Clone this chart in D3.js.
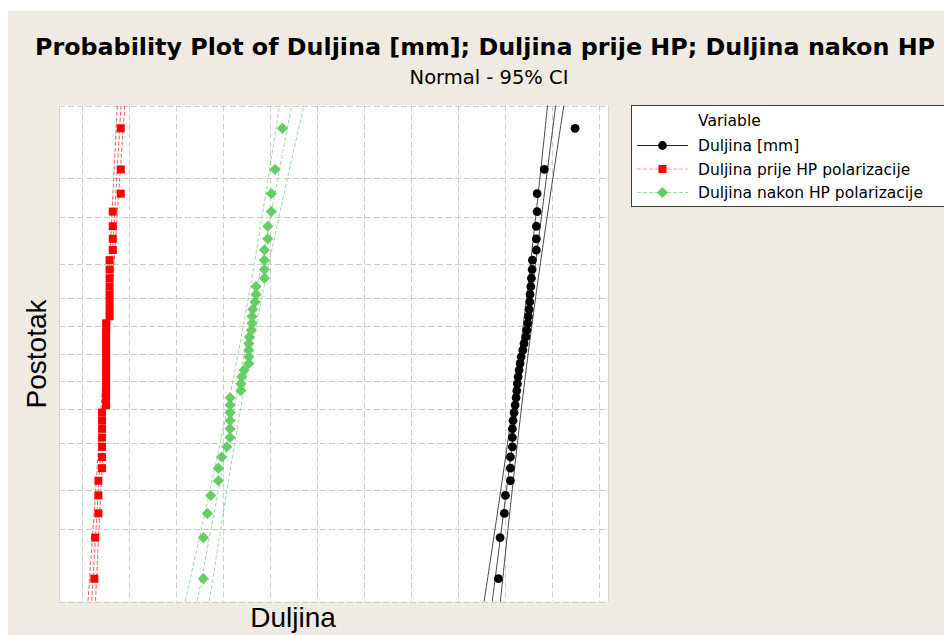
<!DOCTYPE html>
<html>
<head>
<meta charset="utf-8">
<script src="https://cdn.jsdelivr.net/npm/d3@7"></script>
<style>
  html, body { margin: 0; padding: 0; background: #ffffff; }
  svg { display: block; }
</style>
</head>
<body>
<svg id="chart" width="944" height="635"></svg>
<script>
// Series (sorted sample values)
const seriesNames = ["Duljina [mm]", "Duljina prije HP polarizacije", "Duljina nakon HP polarizacije"];

const duljina = [54.34, 54.52, 54.98, 55.09, 55.62, 55.62, 55.62, 55.83, 55.83, 55.83,
                 55.90, 56.01, 56.12, 56.22, 56.30, 56.36, 56.44, 56.54, 56.65, 56.76,
                 56.94, 57.07, 57.26, 57.36, 57.47, 57.53, 57.61, 57.68, 57.71, 57.79,
                 57.85, 57.93, 57.96, 58.38, 58.38, 58.38, 58.46, 58.46, 59.23, 62.50];

const prijeHP = [11.36, 11.44, 11.79, 11.79, 11.79, 12.18, 12.18, 12.18, 12.18, 12.18,
                 12.18, 12.18, 12.61, 12.61, 12.61, 12.61, 12.61, 12.61, 12.61, 12.61,
                 12.61, 12.61, 12.61, 12.61, 12.61, 12.98, 12.98, 12.98, 12.98, 12.98,
                 12.98, 12.98, 12.98, 13.32, 13.32, 13.32, 13.32, 14.17, 14.17, 14.17];

const nakonHP = [22.96, 22.96, 23.38, 23.74, 24.55, 24.55, 24.91, 25.45, 25.80, 25.80,
                 25.80, 25.80, 25.80, 25.80, 26.94, 26.94, 27.04, 27.29, 27.79, 27.79,
                 27.79, 27.79, 27.85, 28.06, 28.14, 28.14, 28.21, 28.46, 28.56, 28.56,
                 29.45, 29.45, 29.45, 29.45, 29.81, 29.81, 30.19, 30.19, 30.59, 31.36];

// Fitted normal parameters (mean, standard deviation) per series
const fitMean = [57.06, 12.64, 27.33];
const fitSd   = [1.45, 0.67, 2.16];

// Grid positions
const percentTicks = [1, 5, 10, 20, 30, 40, 50, 60, 70, 80, 90, 95, 99];
const xTicks = [10, 15, 20, 25, 30, 35, 40, 45, 50, 55, 60, 65];

// Inverse standard normal CDF (Acklam's rational approximation)
function normInv(p) {
  const a = [-3.969683028665376e+01, 2.209460984245205e+02, -2.759285104469687e+02,
              1.383577518672690e+02, -3.066479806614716e+01, 2.506628277459239e+00];
  const b = [-5.447609879822406e+01, 1.615858368580409e+02, -1.556989798598866e+02,
              6.680131188771972e+01, -1.328068155288572e+01];
  const c = [-7.784894002430293e-03, -3.223964580411365e-01, -2.400758277161838e+00,
             -2.549732539343734e+00, 4.374664141464968e+00, 2.938163982698783e+00];
  const d = [7.784695709041462e-03, 3.224671290700398e-01, 2.445134137142996e+00,
             3.754408661907416e+00];
  const pl = 0.02425, ph = 1 - pl;
  let q, r;
  if (p < pl) {
    q = Math.sqrt(-2 * Math.log(p));
    return (((((c[0]*q+c[1])*q+c[2])*q+c[3])*q+c[4])*q+c[5]) / ((((d[0]*q+d[1])*q+d[2])*q+d[3])*q+1);
  } else if (p <= ph) {
    q = p - 0.5; r = q * q;
    return (((((a[0]*r+a[1])*r+a[2])*r+a[3])*r+a[4])*r+a[5])*q / (((((b[0]*r+b[1])*r+b[2])*r+b[3])*r+b[4])*r+1);
  } else {
    q = Math.sqrt(-2 * Math.log(1 - p));
    return -(((((c[0]*q+c[1])*q+c[2])*q+c[3])*q+c[4])*q+c[5]) / ((((d[0]*q+d[1])*q+d[2])*q+d[3])*q+1);
  }
}

const svg = d3.select("#chart");
const W = 944, H = 635;

// Page background
svg.append("rect").attr("x", 8).attr("y", 11).attr("width", W - 8).attr("height", H - 11)
  .attr("fill", "#efebe2");

const plot = { left: 59, right: 608, top: 105.5, bottom: 601.5 };
const zMax = normInv(0.99);

const x = d3.scaleLinear().domain([7.6, 66.0]).range([plot.left, plot.right]);
const y = d3.scaleLinear().domain([-zMax, zMax]).range([plot.bottom, plot.top]);

// Plot area
svg.append("rect")
  .attr("x", plot.left).attr("y", plot.top)
  .attr("width", plot.right - plot.left).attr("height", plot.bottom - plot.top)
  .attr("fill", "#ffffff");

const grid = svg.append("g").attr("stroke", "#cdcdcd").attr("stroke-width", 1)
  .attr("stroke-dasharray", "6,3").attr("fill", "none");

grid.selectAll("line.v").data(xTicks).join("line")
  .attr("x1", d => Math.round(x(d)) + 0.5).attr("x2", d => Math.round(x(d)) + 0.5)
  .attr("y1", plot.top).attr("y2", plot.bottom);

grid.selectAll("line.h").data(percentTicks).join("line")
  .attr("x1", plot.left).attr("x2", plot.right)
  .attr("y1", d => Math.round(y(normInv(d / 100))) + 0.5)
  .attr("y2", d => Math.round(y(normInv(d / 100))) + 0.5);

// left / right frame edges
svg.append("g").attr("stroke", "#d4d4d4").attr("stroke-width", 1)
  .selectAll("line").data([plot.left, plot.right]).join("line")
  .attr("x1", d => d + 0.5).attr("x2", d => d + 0.5)
  .attr("y1", plot.top).attr("y2", plot.bottom);

svg.append("clipPath").attr("id", "plotClip").append("rect")
  .attr("x", plot.left).attr("y", plot.top)
  .attr("width", plot.right - plot.left).attr("height", plot.bottom - plot.top);

const layer = svg.append("g").attr("clip-path", "url(#plotClip)");

const styles = [
  { line: "#333333", dash: null, width: 0.9, fill: "#000000", shape: "circle" },
  { line: "#ff2a2a", dash: "4,2", width: 0.8, fill: "#ff0000", shape: "square" },
  { line: "#7fd27f", dash: "4,2", width: 0.8, fill: "#66cc66", shape: "diamond" }
];

const seriesData = [duljina, prijeHP, nakonHP];

// Fit line and 95% confidence bands
const zs = d3.range(0, 101).map(k => -zMax - 0.05 + k * (2 * zMax + 0.1) / 100);
seriesData.forEach((vals, s) => {
  const n = vals.length, mu = fitMean[s], sd = fitSd[s];
  const lineGen = off => d3.line()
    .x(z => x(mu + z * sd + off * 1.959964 * sd * Math.sqrt(1 / n + z * z / (2 * n))))
    .y(z => y(z));
  [-1, 0, 1].forEach(off => {
    layer.append("path").datum(zs)
      .attr("d", lineGen(off))
      .attr("fill", "none")
      .attr("stroke", styles[s].line)
      .attr("stroke-width", styles[s].width)
      .attr("stroke-dasharray", styles[s].dash);
  });
});

function drawMarker(g, shape, cx, cy, fill) {
  if (shape === "circle") {
    g.append("circle").attr("cx", cx).attr("cy", cy).attr("r", 4.4).attr("fill", fill);
  } else if (shape === "square") {
    g.append("rect").attr("x", cx - 4).attr("y", cy - 4).attr("width", 8).attr("height", 8).attr("fill", fill);
  } else {
    const h = 5.6;
    g.append("path").attr("d", `M${cx},${cy - h}L${cx + h},${cy}L${cx},${cy + h}L${cx - h},${cy}Z`).attr("fill", fill);
  }
}

// Data points at median-rank plotting positions
seriesData.forEach((vals, s) => {
  const sorted = vals.slice().sort(d3.ascending);
  const n = sorted.length;
  const g = layer.append("g");
  sorted.forEach((v, i) => {
    const p = (i + 1 - 0.3) / (n + 0.4);
    drawMarker(g, styles[s].shape, x(v), y(normInv(p)), styles[s].fill);
  });
});

// Titles
svg.append("text")
  .attr("x", 485).attr("y", 54.5).attr("text-anchor", "middle")
  .attr("font-family", "DejaVu Sans, sans-serif").attr("font-weight", "bold")
  .attr("font-size", 23.5).attr("textLength", 900).attr("lengthAdjust", "spacingAndGlyphs")
  .attr("fill", "#000")
  .text("Probability Plot of Duljina [mm]; Duljina prije HP; Duljina nakon HP");

svg.append("text")
  .attr("x", 489).attr("y", 84).attr("text-anchor", "middle")
  .attr("font-family", "DejaVu Sans, sans-serif").attr("font-size", 19.5)
  .attr("fill", "#000").text("Normal - 95% CI");

// Axis titles
svg.append("text")
  .attr("transform", "translate(46,354) rotate(-90)").attr("text-anchor", "middle")
  .attr("font-family", "Liberation Sans, Arial, sans-serif").attr("font-size", 28)
  .attr("fill", "#000").text("Postotak");

svg.append("text")
  .attr("x", 293).attr("y", 627).attr("text-anchor", "middle")
  .attr("font-family", "Liberation Sans, Arial, sans-serif").attr("font-size", 28)
  .attr("fill", "#000").text("Duljina");

// Legend
const leg = svg.append("g");
leg.append("rect").attr("x", 631.5).attr("y", 105.5).attr("width", 330).attr("height", 101)
  .attr("fill", "#ffffff").attr("stroke", "#3a3a3a").attr("stroke-width", 1);
leg.append("text").attr("x", 698).attr("y", 125.5)
  .attr("font-family", "DejaVu Sans, sans-serif").attr("font-size", 15.5).attr("fill", "#000")
  .text("Variable");

const legendLine = ["#222222", "#ff9a9a", "#9edb9e"];
const rowY = [145.5, 169, 192.5];
seriesNames.forEach((name, s) => {
  const cy = rowY[s];
  leg.append("line").attr("x1", 637).attr("x2", 688).attr("y1", cy).attr("y2", cy)
    .attr("stroke", legendLine[s]).attr("stroke-width", 1)
    .attr("stroke-dasharray", styles[s].dash);
  drawMarker(leg, styles[s].shape, 662.5, cy, styles[s].fill);
  leg.append("text").attr("x", 698).attr("y", cy + 5.5)
    .attr("font-family", "DejaVu Sans, sans-serif").attr("font-size", 15.5).attr("fill", "#000")
    .text(name);
});
</script>
</body>
</html>
